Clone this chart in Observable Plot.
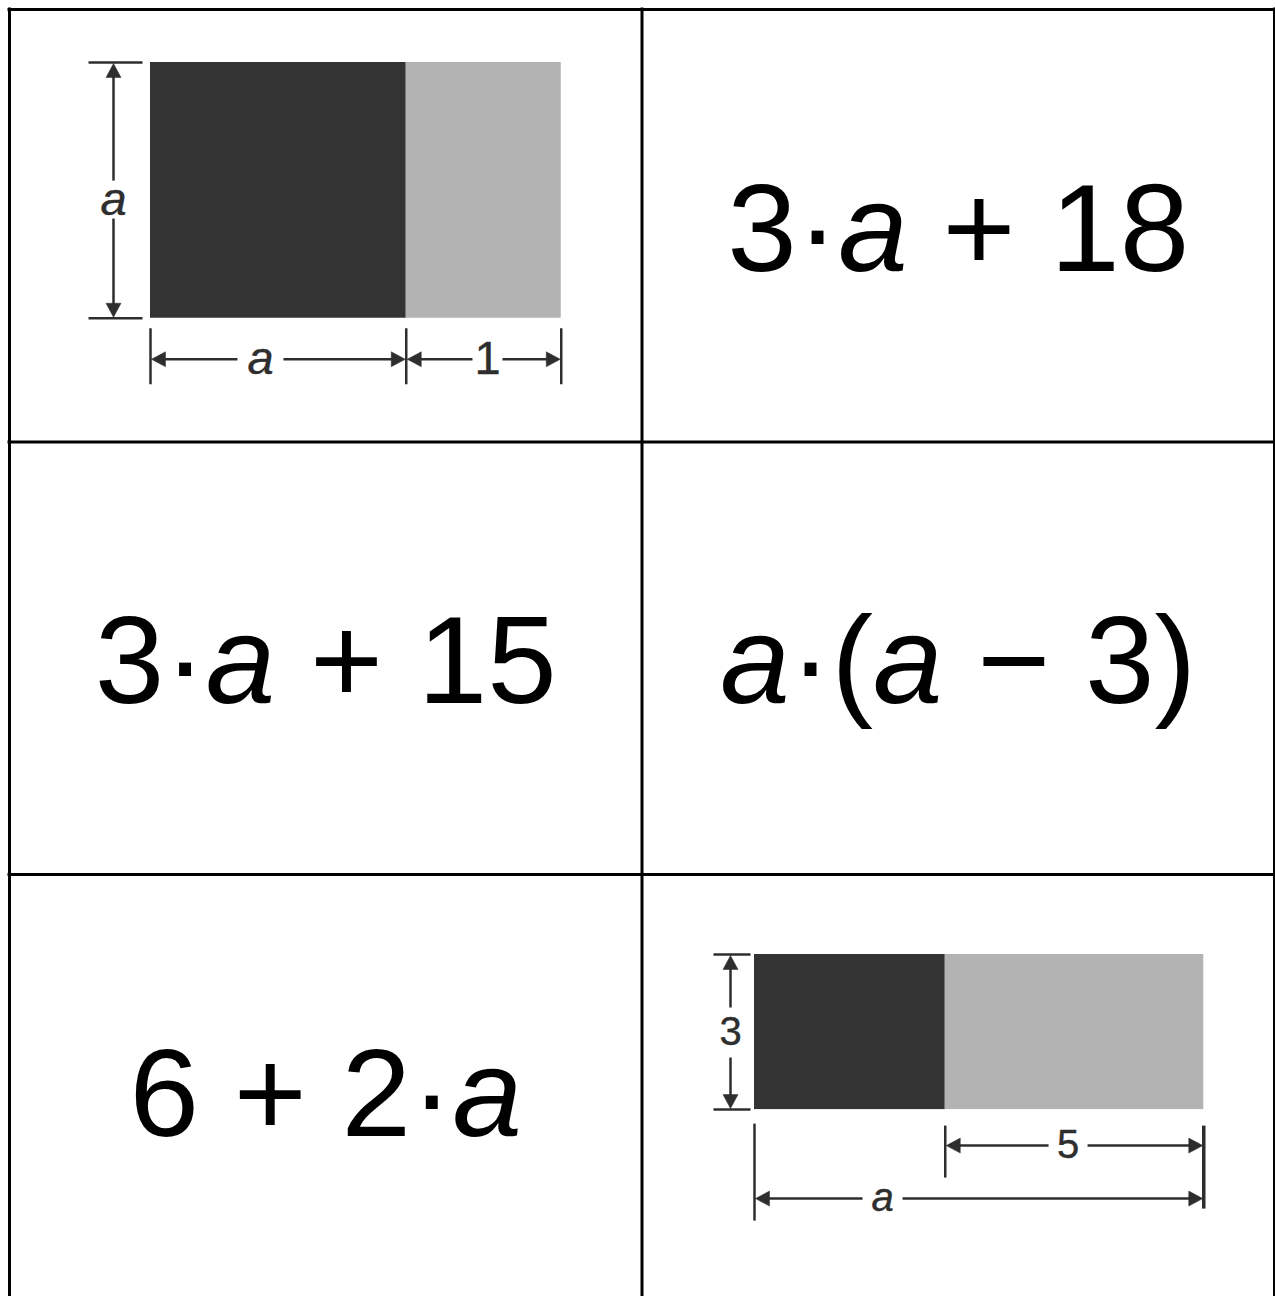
<!DOCTYPE html>
<html>
<head>
<meta charset="utf-8">
<script src="https://cdn.jsdelivr.net/npm/d3@7"></script>
<script src="https://cdn.jsdelivr.net/npm/@observablehq/plot@0.6"></script>
<style>
  html, body { margin: 0; padding: 0; background: #fff; overflow: hidden; }
  #chart svg { display: block; }
</style>
</head>
<body>
<div id="chart"></div>
<script>
// ---------------- data ----------------
// card grid (2 columns x 3 rows)
const gridCols = ["left", "right"];
const gridRows = ["top", "middle", "bottom"];

// algebra expression cards
const exprTexts = ["3·a + 18", "3·a + 15", "a·(a − 3)", "6 + 2·a"];
const exprRows  = [0, 1, 1, 2];
const exprCols  = [1, 0, 1, 0];

// diagram card 1: a-by-a square next to a 1-by-a strip (units)
const d1Widths      = [1.65, 1];
const d1WidthLabels = ["a", "1"];
const d1Height      = 1.65;
const d1HeightLabel = "a";

// diagram card 2: height 3, total width a, light part 5 (units)
const d2Widths      = [3.69, 5];
const d2Height      = 3;
const d2HeightLabel = "3";
const d2SpanLabels  = ["5", "a"];

// ---------------- layout ----------------
const W = 1275, H = 1296;
const colEdges = [9, 641.5, 1274];
const rowEdges = [9, 441.5, 874];
const cellH = 432.5;
const dark = "#333333", light = "#b3b3b3", ink = "#2e2e2e";
const lw = 2.5;

const diagramSpecs = [
  {
    row: 0, col: 0, offset: [141, 53], unit: 155, fontSize: 47,
    widths: d1Widths, height: d1Height, fills: [dark, light],
    vDim: {label: d1HeightLabel, dx: -37, tick: [-62, -8], at: 0.536, gap: 19},
    hDims: [
      {from: 0, to: 1, label: d1WidthLabels[0], dy: 41, at: 0.43, gap: 23},
      {from: 1, to: 2, label: d1WidthLabels[1], dy: 41, at: 0.524, gap: 15}
    ],
    hTicks: [{edge: 0, span: [10, 66], w: lw}, {edge: 1, span: [10, 66], w: lw}, {edge: 2, span: [10, 66], w: lw}]
  },
  {
    row: 2, col: 1, offset: [112.5, 80], unit: 51.7, fontSize: 40,
    widths: d2Widths, height: d2Height, fills: [dark, light],
    vDim: {label: d2HeightLabel, dx: -24, tick: [-41, -4], at: 0.503, gap: 25},
    hDims: [
      {from: 1, to: 2, label: d2SpanLabels[0], dy: 36, at: 0.475, gap: 19.5},
      {from: 0, to: 2, label: d2SpanLabels[1], dy: 89, at: 0.285, gap: 20}
    ],
    hTicks: [{edge: 0, span: [14, 111], w: lw}, {edge: 1, span: [16, 68], w: lw}, {edge: 2, span: [16, 99], w: 3.5}]
  }
];

// arrowhead geometry (px): length along the line, half width across it
const headLen = 14, headHalf = 7.5;
let headId = 0;
function head(tx, ty, dx, dy) {
  // tip at (tx,ty), pointing in unit direction (dx,dy)
  const bx = tx - dx * headLen, by = ty - dy * headLen;
  const id = headId++;
  return [
    {id, x: tx, y: ty},
    {id, x: bx - dy * headHalf, y: by + dx * headHalf},
    {id, x: bx + dy * headHalf, y: by - dx * headHalf},
    {id, x: tx, y: ty}
  ];
}

function buildDiagram(s) {
  const ox = colEdges[s.col] + s.offset[0];
  const oy = rowEdges[s.row] + s.offset[1];
  const edges = [ox];
  s.widths.forEach(w => edges.push(edges[edges.length - 1] + w * s.unit));
  const top = oy, bottom = oy + s.height * s.unit;
  const rects = s.widths.map((w, i) => ({x1: edges[i], x2: edges[i + 1], y1: top, y2: bottom, fill: s.fills[i]}));
  const segs = [], heads = [], labels = [];
  // vertical dimension
  const vx = ox + s.vDim.dx;
  const vy = top + s.vDim.at * (bottom - top);
  segs.push({x1: vx, x2: vx, y1: top + 4, y2: vy - s.vDim.gap, w: lw});
  segs.push({x1: vx, x2: vx, y1: vy + s.vDim.gap, y2: bottom - 4, w: lw});
  segs.push({x1: ox + s.vDim.tick[0], x2: ox + s.vDim.tick[1], y1: top, y2: top, w: lw});
  segs.push({x1: ox + s.vDim.tick[0], x2: ox + s.vDim.tick[1], y1: bottom, y2: bottom, w: lw});
  heads.push(...head(vx, top + 1, 0, -1));
  heads.push(...head(vx, bottom - 1, 0, 1));
  labels.push({x: vx, y: vy, text: s.vDim.label});
  // horizontal dimensions
  for (const d of s.hDims) {
    const x0 = edges[d.from], x1 = edges[d.to], y = bottom + d.dy;
    const lx = x0 + d.at * (x1 - x0);
    segs.push({x1: x0 + 4, x2: lx - d.gap, y1: y, y2: y, w: lw});
    segs.push({x1: lx + d.gap, x2: x1 - 4, y1: y, y2: y, w: lw});
    heads.push(...head(x0 + 1, y, -1, 0));
    heads.push(...head(x1 - 1, y, 1, 0));
    labels.push({x: lx, y, text: d.label});
  }
  for (const t of s.hTicks) {
    segs.push({x1: edges[t.edge], x2: edges[t.edge], y1: bottom + t.span[0], y2: bottom + t.span[1], w: t.w});
  }
  return [
    Plot.rect(rects, {x1: "x1", x2: "x2", y1: "y1", y2: "y2", fill: "fill"}),
    Plot.link(segs, {x1: "x1", y1: "y1", x2: "x2", y2: "y2", stroke: ink, strokeWidth: "w"}),
    Plot.line(heads, {x: "x", y: "y", z: "id", fill: ink, stroke: ink, strokeWidth: 0.5, curve: "linear"}),
    Plot.text(labels, {x: "x", y: "y", text: "text", fontSize: s.fontSize, fill: ink,
      stroke: ink, strokeWidth: 0.4,
      fontFamily: "Liberation Sans, Arial, sans-serif", textAnchor: "middle", lineAnchor: "middle"})
  ];
}

const exprData = exprTexts.map((t, i) => ({
  text: t,
  x: (colEdges[exprCols[i]] + colEdges[exprCols[i] + 1]) / 2,
  y: rowEdges[exprRows[i]] + cellH / 2 + 45
}));

const chart = Plot.plot({
  width: W, height: H, margin: 0,
  x: {domain: [0, W], range: [0, W], axis: null},
  y: {domain: [0, H], range: [0, H], axis: null},
  color: {type: "identity"},
  style: {background: "#fff"},
  marks: [
    ...diagramSpecs.flatMap(buildDiagram),
    Plot.text(exprData, {x: "x", y: "y", text: "text", fontSize: 125, fill: "#000",
      fontFamily: "Liberation Sans, Arial, sans-serif", textAnchor: "middle", lineAnchor: "bottom"}),
    Plot.ruleX(colEdges, {y1: rowEdges[0], y2: H, stroke: "#000", strokeWidth: 3, strokeLinecap: "square"}),
    Plot.ruleY(rowEdges, {x1: colEdges[0], x2: colEdges[2], stroke: "#000", strokeWidth: 3, strokeLinecap: "square"})
  ]
});

// italicise the variable a
const NS = "http://www.w3.org/2000/svg";
chart.querySelectorAll("text").forEach(t => {
  const s = t.textContent;
  if (!s.includes("a")) return;
  while (t.firstChild) t.removeChild(t.firstChild);
  for (const part of s.split(/(a)/)) {
    if (!part) continue;
    const ts = document.createElementNS(NS, "tspan");
    if (part === "a") ts.setAttribute("font-style", "italic");
    ts.textContent = part;
    t.appendChild(ts);
  }
});

document.getElementById("chart").appendChild(chart);
</script>
</body>
</html>
